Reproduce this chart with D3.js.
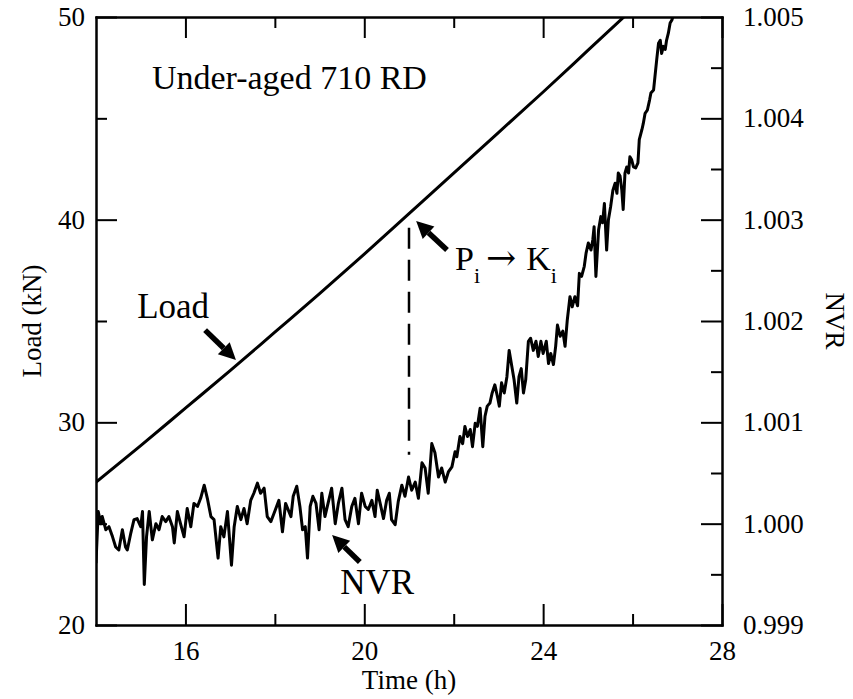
<!DOCTYPE html>
<html>
<head>
<meta charset="utf-8">
<script src="https://cdn.jsdelivr.net/npm/d3@7"></script>
<style>
  body { margin: 0; background: #fff; }
  svg text { font-family: "Liberation Serif", "Times New Roman", serif; fill: #000; }
</style>
</head>
<body>
<svg id="chart"></svg>
<script>
// Load (kN) vs time
const loadTime = [14, 15, 16, 17, 18, 19, 20, 21, 22, 23, 24, 25, 26];
const loadKN = [27.05, 28.85, 30.7, 32.55, 34.45, 36.35, 38.3, 40.3, 42.3, 44.3, 46.3, 48.35, 50.4];

// NVR vs time
const nvrTime = [
  14.00, 14.05, 14.11, 14.14, 14.22, 14.29, 14.37, 14.44, 14.51, 14.59, 14.66, 14.70, 14.78, 14.85, 14.92,
  15.00, 15.04, 15.08, 15.13, 15.19, 15.26, 15.34, 15.41, 15.48, 15.56, 15.63, 15.71, 15.75, 15.82, 15.89, 15.97,
  16.04, 16.12, 16.19, 16.27, 16.34, 16.42, 16.49, 16.57, 16.64, 16.73, 16.79, 16.86, 16.94,
  17.03, 17.09, 17.16, 17.24, 17.31, 17.38, 17.46, 17.53, 17.61, 17.68, 17.76, 17.83, 17.91, 17.98,
  18.09, 18.17, 18.24, 18.36, 18.41, 18.49, 18.56, 18.62, 18.68, 18.73, 18.79, 18.85, 18.92, 18.99,
  19.05, 19.12, 19.20, 19.27, 19.35, 19.42, 19.50, 19.57, 19.64, 19.72, 19.79, 19.87, 19.94,
  20.02, 20.09, 20.17, 20.24, 20.29, 20.37, 20.43, 20.50, 20.56, 20.61, 20.69, 20.76, 20.84, 20.91, 20.99,
  21.06, 21.14, 21.21, 21.29, 21.36, 21.43, 21.51, 21.58, 21.66, 21.73, 21.81, 21.88, 21.96,
  22.03, 22.07, 22.14, 22.20, 22.25, 22.31, 22.37, 22.42, 22.48, 22.53, 22.59, 22.65, 22.70, 22.75, 22.81, 22.86, 22.92, 22.98,
  23.02, 23.07, 23.13, 23.19, 23.24, 23.30, 23.35, 23.41, 23.46, 23.51, 23.56, 23.61, 23.67, 23.72, 23.78, 23.84, 23.89, 23.95,
  24.00, 24.07, 24.12, 24.17, 24.23, 24.28, 24.32, 24.38, 24.44, 24.49, 24.54, 24.60, 24.65, 24.71, 24.77, 24.81, 24.86, 24.92, 24.96,
  25.01, 25.07, 25.11, 25.14, 25.18, 25.24, 25.29, 25.33, 25.37, 25.42, 25.46, 25.51, 25.56, 25.61, 25.65, 25.68, 25.72, 25.76, 25.79, 25.83, 25.87, 25.91, 25.94, 25.98,
  26.02, 26.07, 26.12, 26.15, 26.21, 26.24, 26.28, 26.33, 26.38, 26.41, 26.47, 26.50, 26.54, 26.58, 26.62, 26.65, 26.69, 26.73, 26.76, 26.80, 26.84, 26.88, 26.90
];
const nvrValue = [
  0.99961, 1.00012, 1.00000, 1.00007, 0.99994, 0.99997, 0.99987, 0.99977, 0.99974, 0.99994, 0.99977, 0.99974, 0.99991, 1.00004, 1.00005,
  0.99997, 1.00012, 0.99940, 0.99987, 1.00012, 0.99984, 1.00000, 0.99994, 1.00007, 1.00002, 1.00007, 0.99997, 0.99981, 1.00012, 1.00000, 0.99987,
  1.00015, 0.99997, 1.00020, 1.00017, 1.00025, 1.00038, 1.00025, 1.00007, 1.00004, 0.99966, 0.99997, 0.99987, 1.00012,
  0.99959, 0.99997, 1.00017, 1.00004, 1.00015, 1.00000, 1.00023, 1.00030, 1.00040, 1.00030, 1.00035, 1.00007, 1.00002, 1.00010,
  1.00023, 0.99992, 1.00020, 1.00007, 1.00027, 1.00037, 1.00017, 0.99994, 0.99997, 0.99966, 1.00017, 1.00027, 1.00020, 0.99994,
  1.00030, 1.00007, 1.00022, 1.00035, 1.00000, 1.00020, 1.00035, 1.00004, 0.99997, 1.00017, 1.00025, 1.00000, 1.00030,
  1.00017, 1.00014, 1.00023, 1.00007, 1.00033, 1.00017, 1.00005, 1.00023, 1.00030, 1.00004, 0.99999, 1.00022, 1.00038, 1.00027, 1.00046,
  1.00033, 1.00041, 1.00025, 1.00060, 1.00055, 1.00030, 1.00079, 1.00070, 1.00046, 1.00055, 1.00041, 1.00051, 1.00056,
  1.00071, 1.00066, 1.00086, 1.00079, 1.00096, 1.00086, 1.00093, 1.00076, 1.00099, 1.00096, 1.00114, 1.00076, 1.00106, 1.00116, 1.00119, 1.00129, 1.00137, 1.00125,
  1.00116, 1.00139, 1.00129, 1.00145, 1.00171, 1.00155, 1.00142, 1.00119, 1.00145, 1.00153, 1.00129, 1.00142, 1.00180, 1.00183, 1.00171, 1.00180, 1.00165, 1.00180,
  1.00168, 1.00180, 1.00158, 1.00168, 1.00157, 1.00175, 1.00196, 1.00185, 1.00190, 1.00175, 1.00201, 1.00224, 1.00214, 1.00224, 1.00215, 1.00247, 1.00244, 1.00254, 1.00267,
  1.00277, 1.00270, 1.00280, 1.00293, 1.00244, 1.00290, 1.00303, 1.00297, 1.00316, 1.00270, 1.00300, 1.00313, 1.00329, 1.00336, 1.00326, 1.00346, 1.00343, 1.00329, 1.00310, 1.00346, 1.00352, 1.00346, 1.00362, 1.00359,
  1.00352, 1.00351, 1.00356, 1.00379, 1.00389, 1.00395, 1.00405, 1.00408, 1.00418, 1.00425, 1.00428, 1.00441, 1.00458, 1.00474, 1.00477, 1.00464, 1.00471, 1.00468, 1.00477, 1.00484, 1.00494, 1.00497, 1.00500
];

const timeMajor = [16, 20, 24, 28];
const timeMinor = [18, 22, 26];
const loadMajor = [20, 30, 40, 50];
const loadMinor = [25, 35, 45];
const nvrMajor = [0.999, 1.000, 1.001, 1.002, 1.003, 1.004, 1.005];
const nvrMinor = [0.9995, 1.0005, 1.0015, 1.0025, 1.0035, 1.0045];

// marker at crack initiation (time h, load range kN)
const initTime = 21;
const initLoad = [28.4, 39.6];

const margin = { top: 17, right: 131, bottom: 74, left: 96 };
const W = 853, H = 699;
const width = W - margin.left - margin.right;
const height = H - margin.top - margin.bottom;

const svg = d3.select("#chart").attr("width", W).attr("height", H);
const g = svg.append("g").attr("transform", `translate(${margin.left},${margin.top})`);

const x = d3.scaleLinear().domain([14, 28]).range([0, width]);
const yL = d3.scaleLinear().domain([20, 50]).range([height, 0]);
const yR = d3.scaleLinear().domain([0.999, 1.005]).range([height, 0]);

g.append("clipPath").attr("id", "clip")
  .append("rect").attr("width", width).attr("height", height);

function styleAxis(sel) {
  sel.attr("font-size", 27).attr("font-family", null);
  sel.selectAll("path, line").attr("stroke", "#000").attr("stroke-width", 2);
  sel.select(".domain").attr("stroke-linecap", "square");
}

// bottom
g.append("g").attr("transform", `translate(0,${height})`)
  .call(d3.axisBottom(x).tickValues(timeMajor).tickSize(-21).tickSizeOuter(0).tickPadding(16).tickFormat(d3.format("d")))
  .call(styleAxis);
g.append("g").attr("transform", `translate(0,${height})`)
  .call(d3.axisBottom(x).tickValues(timeMinor).tickSize(-11).tickSizeOuter(0).tickFormat(""))
  .call(styleAxis);
// top
g.append("g")
  .call(d3.axisTop(x).tickValues(timeMajor).tickSize(-21).tickSizeOuter(0).tickFormat(""))
  .call(styleAxis);
g.append("g")
  .call(d3.axisTop(x).tickValues(timeMinor).tickSize(-11).tickSizeOuter(0).tickFormat(""))
  .call(styleAxis);
// left
g.append("g")
  .call(d3.axisLeft(yL).tickValues(loadMajor).tickSize(-21).tickSizeOuter(0).tickPadding(11).tickFormat(d3.format("d")))
  .call(styleAxis);
g.append("g")
  .call(d3.axisLeft(yL).tickValues(loadMinor).tickSize(-11).tickSizeOuter(0).tickFormat(""))
  .call(styleAxis);
// right
g.append("g").attr("transform", `translate(${width},0)`)
  .call(d3.axisRight(yR).tickValues(nvrMajor).tickSize(-21).tickSizeOuter(0).tickPadding(21).tickFormat(d3.format(".3f")))
  .call(styleAxis);
g.append("g").attr("transform", `translate(${width},0)`)
  .call(d3.axisRight(yR).tickValues(nvrMinor).tickSize(-11).tickSizeOuter(0).tickFormat(""))
  .call(styleAxis);

// load line
const loadLine = d3.line().x(d => x(d[0])).y(d => yL(d[1])).curve(d3.curveMonotoneX);
g.append("path")
  .datum(loadTime.map((t, i) => [t, loadKN[i]]))
  .attr("clip-path", "url(#clip)")
  .attr("d", loadLine)
  .attr("fill", "none")
  .attr("stroke", "#000")
  .attr("stroke-width", 3);

// NVR line
const nvrLine = d3.line().x(d => x(d[0])).y(d => yR(d[1]));
g.append("path")
  .datum(nvrTime.map((t, i) => [t, nvrValue[i]]))
  .attr("clip-path", "url(#clip)")
  .attr("d", nvrLine)
  .attr("fill", "none")
  .attr("stroke", "#000")
  .attr("stroke-width", 3)
  .attr("stroke-linejoin", "round");

// dashed initiation marker
g.append("line")
  .attr("x1", x(initTime)).attr("x2", x(initTime))
  .attr("y1", yL(initLoad[1])).attr("y2", yL(initLoad[0]))
  .attr("stroke", "#000")
  .attr("stroke-width", 2.5)
  .attr("stroke-dasharray", "21,11");

// arrows: [tail time, tail load, head time, head load]
function arrow(t1, l1, t2, l2) {
  const x1 = x(t1), y1 = yL(l1), x2 = x(t2), y2 = yL(l2);
  const ang = Math.atan2(y2 - y1, x2 - x1);
  const hl = 17, hw = 8.5;
  const bx = x2 - hl * Math.cos(ang), by = y2 - hl * Math.sin(ang);
  g.append("line")
    .attr("x1", x1).attr("y1", y1).attr("x2", bx).attr("y2", by)
    .attr("stroke", "#000").attr("stroke-width", 5.5);
  const px = -Math.sin(ang) * hw, py = Math.cos(ang) * hw;
  g.append("path")
    .attr("d", `M${x2},${y2}L${bx + px},${by + py}L${bx - px},${by - py}Z`)
    .attr("fill", "#000");
}
arrow(16.44, 34.55, 17.13, 33.07);
arrow(21.85, 38.5, 21.16, 39.93);
arrow(19.9, 23.11, 19.28, 24.44);

// labels
g.append("text").attr("x", x(15.25)).attr("y", yL(46.44)).attr("font-size", 34).text("Under-aged 710 RD");
g.append("text").attr("x", x(14.92)).attr("y", yL(35.15)).attr("font-size", 35).text("Load");
g.append("text").attr("x", x(19.46)).attr("y", yL(21.53)).attr("font-size", 35).text("NVR");

const pk = g.append("text").attr("x", x(22.03)).attr("y", yL(37.51)).attr("font-size", 34);
pk.append("tspan").text("P");
pk.append("tspan").attr("font-size", 22).attr("dy", 13).text("i");
pk.append("tspan").attr("dy", -13).attr("dx", 6)
  .style("font-family", "'DejaVu Serif'").attr("font-size", 36).text("\u2192");
pk.append("tspan").attr("dx", 10).text("K");
pk.append("tspan").attr("font-size", 22).attr("dy", 13).text("i");

// axis titles
svg.append("text")
  .attr("transform", `translate(41,${margin.top + height / 2}) rotate(-90)`)
  .attr("text-anchor", "middle").attr("font-size", 27).text("Load (kN)");
svg.append("text")
  .attr("transform", `translate(826,${margin.top + height / 2}) rotate(90)`)
  .attr("text-anchor", "middle").attr("font-size", 27).text("NVR");
svg.append("text")
  .attr("x", margin.left + width / 2).attr("y", 689)
  .attr("text-anchor", "middle").attr("font-size", 27).text("Time (h)");
</script>
</body>
</html>
